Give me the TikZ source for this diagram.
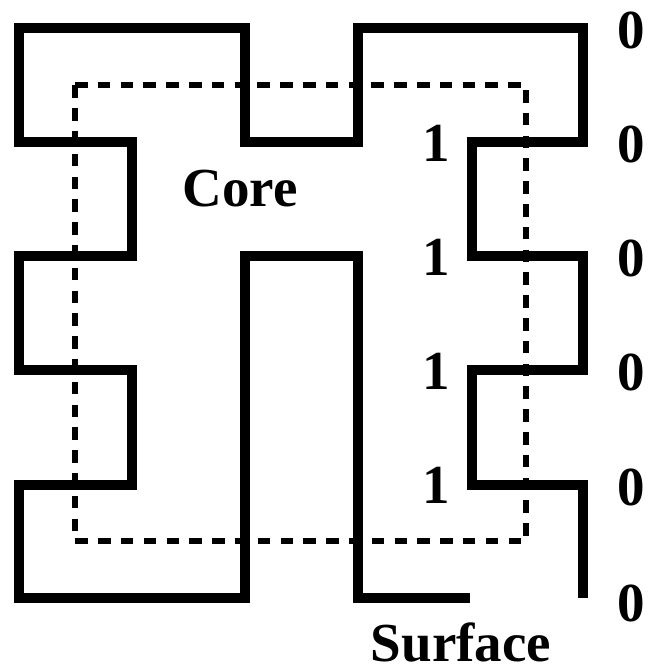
\documentclass[tikz,border=0pt]{standalone}
\usepackage{fontspec}
\setmainfont{Liberation Serif}
\begin{document}
\begin{tikzpicture}[x=1pt,y=-1pt,
  wall/.style={line width=10pt,line join=miter,line cap=butt},
  hull/.style={line width=6pt,dash pattern=on 12.5pt off 10.3pt},
  lbl/.style={font=\fontsize{55}{66}\selectfont\bfseries,inner sep=0pt}]
\useasboundingbox (0,0) rectangle (650,672);
\draw[wall] (470,598) -- (358,598) -- (358,256) -- (245,256) -- (245,598)
  -- (19,598) -- (19,485) -- (132,485) -- (132,370) -- (19,370) -- (19,256)
  -- (132,256) -- (132,142) -- (19,142) -- (19,28) -- (245,28) -- (245,142)
  -- (358,142) -- (358,28) -- (583,28) -- (583,142) -- (472,142) -- (472,256)
  -- (583,256) -- (583,370) -- (472,370) -- (472,485) -- (583,485) -- (583,598);
\draw[hull] (75,85) -- (526,85) -- (526,541) -- (75,541) -- cycle;
\node[lbl,anchor=base] (core) at (240,206) {Core};
\node[lbl,anchor=base] (surf) at (461,661) {Surface};
\node[lbl] (z1) at (631,30) {0};
\node[lbl] (z2) at (631,144) {0};
\node[lbl] (z3) at (631,258) {0};
\node[lbl] (z4) at (631,372) {0};
\node[lbl] (z5) at (631,487) {0};
\node[lbl] (z6) at (631,603) {0};
\node[lbl] (o1) at (436,143) {1};
\node[lbl] (o2) at (436,257) {1};
\node[lbl] (o3) at (436,371) {1};
\node[lbl] (o4) at (436,485) {1};
\end{tikzpicture}
\end{document}
